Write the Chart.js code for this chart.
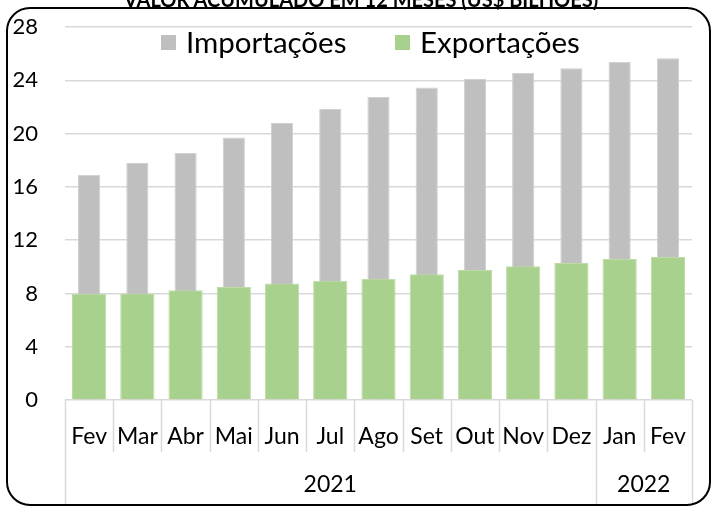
<!DOCTYPE html>
<html><head><meta charset="utf-8">
<script src="https://cdn.jsdelivr.net/npm/chart.js@4.4.1/dist/chart.umd.min.js"></script>
<style>
html,body{margin:0;padding:0;background:#fff;overflow:hidden;width:715px;height:507px;}
#wrap{position:relative;width:715px;height:507px;}
canvas{position:absolute;left:0;top:0;}
#frame{position:absolute;left:6px;top:7px;width:701px;height:495px;border:2.5px solid #000;border-radius:24px;pointer-events:none;}
#title{position:absolute;left:0;width:722px;top:-11px;text-align:center;font:bold 20px Lato,sans-serif;line-height:20px;color:#000;white-space:nowrap;}
.lg{position:absolute;font:29.5px Lato,sans-serif;line-height:30px;color:#000;white-space:nowrap;}
.bx{position:absolute;width:15px;height:15px;}
</style></head>
<body><div id="wrap">
<canvas id="c" width="715" height="507"></canvas>
<div id="frame"></div>
<div id="title">VALOR ACUMULADO EM 12 MESES (US$ BILHÕES)</div>
<div class="bx" style="left:161px;top:35px;background:#bfbfbf"></div>
<div class="lg" id="l1" style="left:186px;top:27px">Importações</div>
<div class="bx" style="left:395px;top:35px;background:#a9d18e"></div>
<div class="lg" id="l2" style="left:420px;top:27px">Exportações</div>
</div>
<script>
const months = ['Fev','Mar','Abr','Mai','Jun','Jul','Ago','Set','Out','Nov','Dez','Jan','Fev'];
const years = ['2021','2022'];
const yearStart = [0, 11];
const yearCount = [11, 2];
const importacoes = [16.9, 17.8, 18.55, 19.7, 20.8, 21.85, 22.75, 23.45, 24.1, 24.55, 24.9, 25.4, 25.65];
const exportacoes = [7.98, 8.0, 8.23, 8.48, 8.75, 8.96, 9.1, 9.44, 9.76, 10.04, 10.28, 10.58, 10.74];
const yTicks = [0, 4, 8, 12, 16, 20, 24, 28];

const FONT = 'Lato, sans-serif';
const separators = {
  id: 'separators',
  afterDraw(chart) {
    const x = chart.scales.x, ctx = chart.ctx;
    const top = chart.chartArea.bottom;
    const groupEdges = [];
    yearStart.forEach((s, i) => { groupEdges.push(s); groupEdges.push(s + yearCount[i]); });
    ctx.save();
    ctx.strokeStyle = '#d9d9d9';
    ctx.lineWidth = 1.5;
    for (let i = 0; i <= months.length; i++) {
      const px = Math.round(x.getPixelForValue(i - 0.5)) + 0.5;
      const bottom = groupEdges.includes(i) ? x.bottom - 3 : top + 52;
      ctx.beginPath(); ctx.moveTo(px, top); ctx.lineTo(px, bottom); ctx.stroke();
    }
    // year group labels, centred on their group of months
    ctx.fillStyle = '#000';
    ctx.font = '23px ' + FONT;
    ctx.textAlign = 'center';
    ctx.textBaseline = 'middle';
    years.forEach((yr, i) => {
      const cx = x.getPixelForValue(yearStart[i] + (yearCount[i] - 1) / 2);
      ctx.fillText(yr, cx, top + 85);
    });
    ctx.restore();
  }
};

new Chart(document.getElementById('c'), {
  type: 'bar',
  data: {
    labels: months,
    datasets: [
      { label: 'Importações', data: importacoes, backgroundColor: '#bfbfbf', borderColor: '#d0d0d0', borderWidth: 1,
        barPercentage: 0.46, categoryPercentage: 1, grouped: false, order: 1 },
      { label: 'Exportações', data: exportacoes, backgroundColor: '#a9d18e', borderColor: '#bcdba6', borderWidth: 1,
        barPercentage: 0.71, categoryPercentage: 1, grouped: false, order: 0 }
    ]
  },
  options: {
    responsive: false, animation: false, devicePixelRatio: 1,
    layout: { padding: { left: 0, right: 23, top: 27, bottom: 0 } },
    plugins: { legend: { display: false }, tooltip: { enabled: false }, title: { display: false } },
    scales: {
      x: {
        type: 'category', position: 'bottom', offset: true,
        grid: { display: false, drawTicks: false },
        border: { display: false },
        ticks: { color: '#000', font: { family: FONT, size: 23 }, padding: 23, maxRotation: 0, autoSkip: false },
        afterFit(s) { s.height = 107; }
      },
      y: {
        min: 0, max: 28,
        afterBuildTicks(s) { s.ticks = yTicks.map(v => ({ value: v })); },
        grid: { color: '#d9d9d9', lineWidth: 1.5, drawTicks: false },
        border: { display: false },
        ticks: { color: '#000', font: { family: FONT, size: 22 }, padding: 27 },
        afterFit(s) { s.width = 65; s.paddingTop = 13; s.paddingBottom = 0; }
      }
    }
  },
  plugins: [separators]
});
</script>
</body></html>
